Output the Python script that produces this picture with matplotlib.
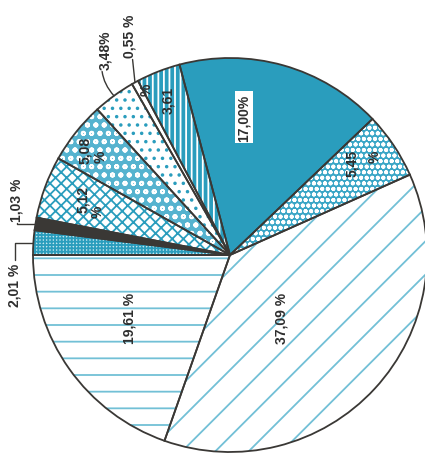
import matplotlib
matplotlib.use("Agg")
import matplotlib.pyplot as plt
import numpy as np

# shares in percent, counter-clockwise from the right
labels = ["5,45 %", "17,00%", "3,61 %", "0,55 %", "3,48%", "5,08 %",
          "5,12 %", "1,03 %", "2,01 %", "19,61 %", "37,09 %"]
values = [5.45, 17.00, 3.61, 0.55, 3.48, 5.08, 5.12, 1.03, 2.01, 19.61, 37.09]

teal = "#2a9dbd"
light = "#72c0d6"
dark = "#3a3835"
# (facecolor, hatch, hatch colour) per slice
styles = [
    ("#3aa6c6", "ooo", "white"),
    (teal, None, None),
    (teal, "|||", "white"),
    ("white", None, None),
    ("white", "..", teal),
    ("#55b3cf", "oo", "white"),
    ("white", "xxx", teal),
    (dark, None, None),
    ("#c4e6ef", "+++++", teal),
    ("white", "-", light),
    ("white", "/", light),
]

plt.rcParams["hatch.linewidth"] = 1.3
plt.rcParams["font.family"] = ["Liberation Sans", "DejaVu Sans"]

fig = plt.figure(figsize=(4.25, 4.56), dpi=100)
ax = fig.add_axes([0, 0, 1, 1])

# start so that the 2,01 % slice ends on the horizontal to the left
start = 180 - sum(values[:9]) / sum(values) * 360

# layer 1: fills + hatches
wedges, _ = ax.pie(values, startangle=start, counterclock=True,
                   radius=1, center=(0, 0))
for w, (fc, hatch, hc) in zip(wedges, styles):
    w.set_facecolor(fc)
    if hatch:
        w.set_hatch(hatch)
        w.set_edgecolor(hc)
    else:
        w.set_edgecolor(fc)
    w.set_linewidth(0)

# layer 2: outlines
outl, _ = ax.pie(values, startangle=start, counterclock=True,
                 radius=1, center=(0, 0))
for w in outl:
    w.set_facecolor("none")
    w.set_edgecolor(dark)
    w.set_linewidth(1.3)

# pixel -> data (centre at 230,256 px, radius 197 px)
def px(x, y):
    return (x - 230) / 197, (256 - y) / 197

def edge(i):
    w = wedges[i]
    a = np.deg2rad((w.theta1 + w.theta2) / 2)
    return np.cos(a), np.sin(a)

txt = dict(rotation=90, color="#2e2e2e", fontsize=10, fontweight="bold",
           ha="center", va="center")

ax.text(*px(282, 318), "37,09 %", **txt)
ax.text(*px(130, 318), "19,61 %", **txt)
ax.text(*px(244, 118), "17,00%", bbox=dict(fc="white", ec="none", pad=1.5), **txt)
ax.text(*px(352, 163), "5,45", **txt)
ax.text(*px(375, 157), "%", **txt)
ax.text(*px(168, 100), "3,61", **txt)
ax.text(*px(147, 90), "%", **txt)
ax.text(*px(85, 150), "5,08", **txt)
ax.text(*px(101, 157), "%", **txt)
ax.text(*px(83, 200), "5,12", **txt)
ax.text(*px(98, 212), "%", **txt)

# outside labels with leaders
line = dict(arrowstyle="-", color=dark, lw=1.0, shrinkA=0, shrinkB=0)
ax.annotate("2,01 %", xy=edge(8), xytext=px(15, 285), arrowprops=dict(
    connectionstyle="angle,angleA=90,angleB=0,rad=0", **line), **txt)
ax.annotate("1,03 %", xy=edge(7), xytext=px(17, 200), arrowprops=dict(
    connectionstyle="angle,angleA=-90,angleB=0,rad=0", **line), **txt)
ax.annotate("3,48%", xy=edge(4), xytext=px(105, 50), arrowprops=dict(
    connectionstyle="arc3,rad=0.3", **line), **txt)
ax.annotate("0,55 %", xy=edge(3), xytext=px(130, 36), arrowprops=dict(
    connectionstyle="arc3,rad=0", **line), **txt)

ax.set_xlim(-230 / 197, 195 / 197)
ax.set_ylim(-200 / 197, 256 / 197)
ax.set_aspect("auto")
ax.axis("off")

fig.savefig("out.png", dpi=100)
